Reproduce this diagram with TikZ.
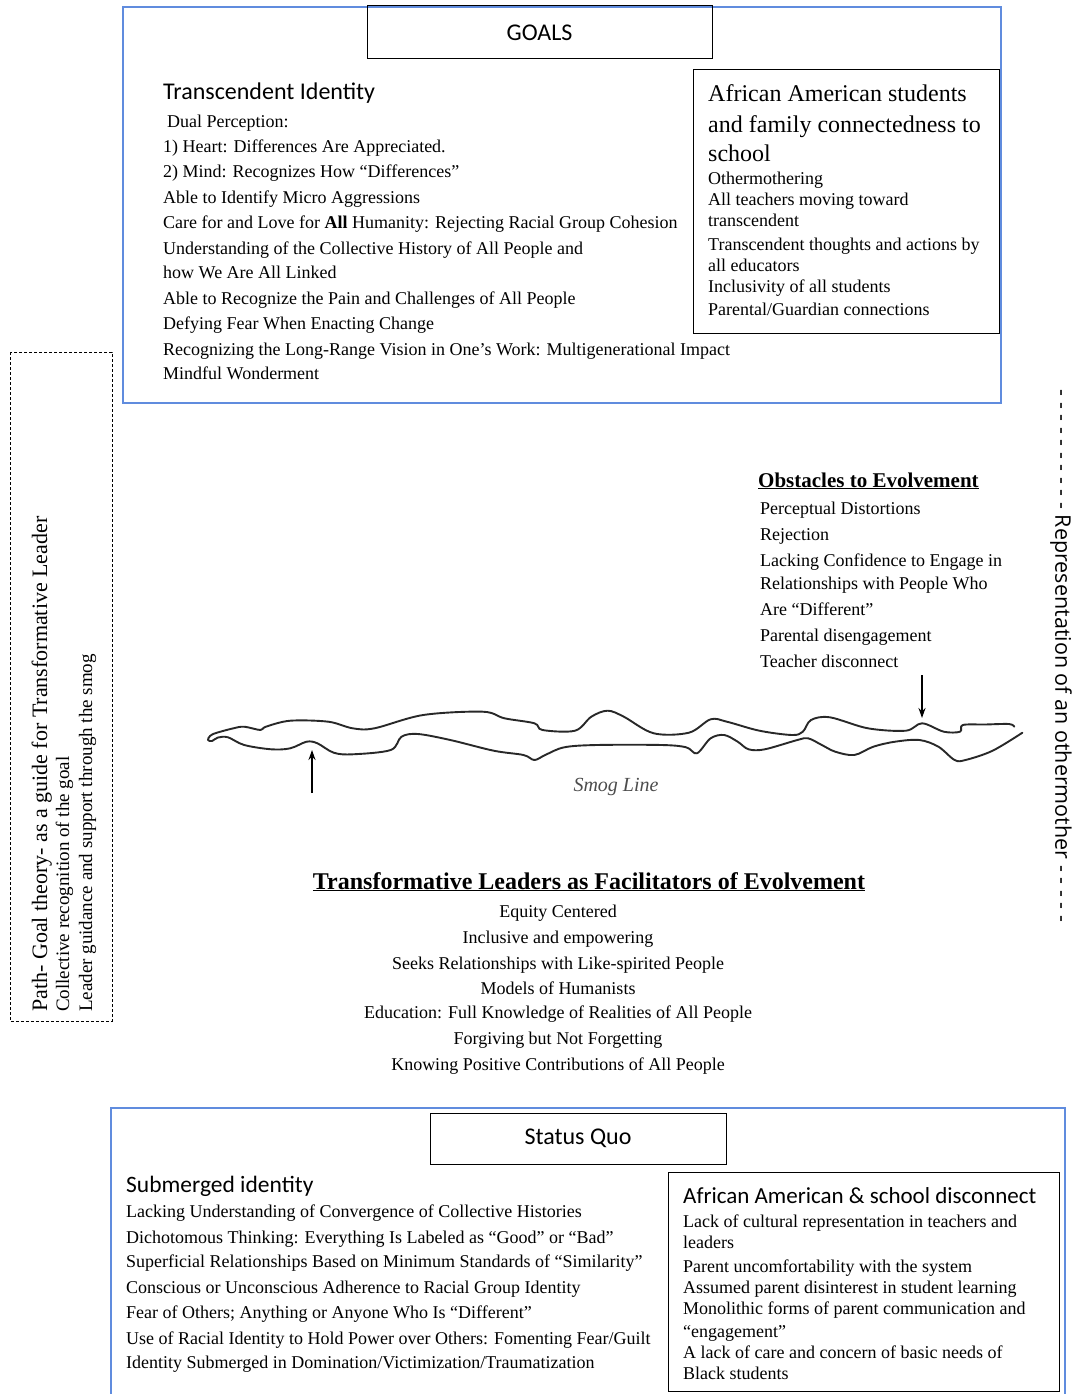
\documentclass[tikz,border=0pt]{standalone}
\usepackage{fontspec}
\setmainfont{Liberation Serif}
\newfontfamily\calibri{Carlito}
\newfontfamily\osans{Open Sans}
\usetikzlibrary{arrows.meta}
\definecolor{boxblue}{RGB}{96,140,222}
\definecolor{smoggray}{RGB}{40,40,40}
\begin{document}
\begin{tikzpicture}[x=1pt,y=-1pt,
  tx/.style={font=\fontsize{18}{21}\selectfont, inner sep=0pt, anchor=base west},
  txs/.style={font=\fontsize{18}{21}\selectfont, inner sep=0pt, anchor=base west},
  txc/.style={font=\fontsize{18}{21}\selectfont, inner sep=0pt, anchor=base},
  hd/.style={font=\calibri\fontsize{24}{28}\selectfont, inner sep=0pt, anchor=base west},
  bigser/.style={font=\fontsize{24}{28}\selectfont, inner sep=0pt, anchor=base west},
  bluebox/.style={draw=boxblue, line width=1.1pt},
  blackbox/.style={draw=black, line width=1pt},
  titlebox/.style={draw=black, line width=1pt, inner sep=0pt, font=\calibri\fontsize{24}{28}\selectfont},
  smog/.style={draw=smoggray, line width=1.9pt, line join=round, line cap=round},
  arr/.style={draw=black, line width=1.7pt, -{Stealth[length=10pt,width=7pt]}},
  rot/.style={inner sep=0pt, anchor=base west, rotate=90}
]
\useasboundingbox (0,0) rectangle (1073,1394);

% ===== GOALS area =====
\draw[bluebox] (123,7) rectangle (1001,403);
\node[titlebox, minimum width=345pt, minimum height=53pt] (goals) at (539.5,32.5) {GOALS};

\node[hd] (ti) at (163,100) {Transcendent Identity};
\node[tx] (g1) at (167,128) {Dual Perception:};
\node[tx] (g2) at (163,153) {1) Heart: Differences Are Appreciated.};
\node[tx] (g3) at (163,177) {2) Mind: Recognizes How “Differences”};
\node[tx] (g4) at (163,203) {Able to Identify Micro Aggressions};
\node[tx] (g5) at (163,228) {Care for and Love for \textbf{All} Humanity: Rejecting Racial Group Cohesion};
\node[tx] (g6) at (163,254) {Understanding of the Collective History of All People and};
\node[tx] (g7) at (163,278) {how We Are All Linked};
\node[tx] (g8) at (163,304) {Able to Recognize the Pain and Challenges of All People};
\node[tx] (g9) at (163,329) {Defying Fear When Enacting Change};
\node[tx] (g10) at (163,355) {Recognizing the Long-Range Vision in One’s Work: Multigenerational Impact};
\node[tx] (g11) at (163,379) {Mindful Wonderment};

\draw[blackbox] (693,70) rectangle (999,333);
\node[bigser] (aa1) at (708,102) {African American students};
\node[bigser] (aa2) at (708,132) {and family connectedness to};
\node[bigser] (aa3) at (708,161) {school};
\node[txs] (r1) at (708,184) {Othermothering};
\node[txs] (r2) at (708,205) {All teachers moving toward};
\node[txs] (r3) at (708,226) {transcendent};
\node[txs] (r4) at (708,250) {Transcendent thoughts and actions by};
\node[txs] (r5) at (708,271) {all educators};
\node[txs] (r6) at (708,292) {Inclusivity of all students};
\node[txs] (r7) at (708,315) {Parental/Guardian connections};

% ===== Left dashed box =====
\draw[draw=black, line width=0.8pt, dash pattern=on 3pt off 2pt] (10,352) rectangle (112,1021);
\node[rot, font=\fontsize{22}{25}\selectfont] (pg1) at (47,1012) {Path- Goal theory- as a guide for Transformative Leader};
\node[rot, font=\fontsize{19}{22}\selectfont] (pg2) at (69,1012) {Collective recognition of the goal};
\node[rot, font=\fontsize{19}{22}\selectfont] (pg3) at (92,1012) {Leader guidance and support through the smog};

% ===== Right vertical label =====
\node[inner sep=0pt, rotate=-90, font=\osans\fontsize{21.5}{24}\selectfont] (oth) at (1061,656)
  {- - - - - - - - - - Representation of an othermother - - - - -};

% ===== Obstacles =====
\node[tx, font=\bfseries\fontsize{21}{24}\selectfont] (obh) at (758,487) {\underline{Obstacles to Evolvement}};
\node[tx] (o1) at (760,514) {Perceptual Distortions};
\node[tx] (o2) at (760,540) {Rejection};
\node[tx] (o3) at (760,566) {Lacking Confidence to Engage in};
\node[tx] (o4) at (760,589) {Relationships with People Who};
\node[tx] (o5) at (760,615) {Are “Different”};
\node[tx] (o6) at (760,641) {Parental disengagement};
\node[tx] (o7) at (760,667) {Teacher disconnect};

% ===== Smog line =====
\draw[smog] plot[smooth, tension=0.55] coordinates {
 (1014.3,726.7) (1008.9,724) (985,724.5) (962.8,725) (960,731.7) (943.8,731.7) (922.1,723.3)
 (905.8,730.7) (867.9,728.3) (829.9,717.3) (811,720) (802.8,731.7) (792,735) (759.4,730.7)
 (726.9,721.7) (710.6,719.3) (688.9,732.7) (653.7,733.3) (623.8,716.7) (607.6,710.7)
 (591.3,716.7) (575,730.7) (542.5,730) (534.4,723.3) (504.5,718.3) (482.8,711.7) (423.2,715)
 (374.4,728.3) (352.7,728.3) (328.3,721.7) (290.3,720.7) (265.9,726.7) (260.5,730)
 (244.2,726.7) (233.4,728.3) (216,733) (210,736) (208,740) (212,741) (218,737.5) (228,737.3)
 (244.2,745) (271.3,749.3) (290.3,748.3) (306.6,741.7) (317.4,743.3) (333.7,752.7)
 (352.7,754.3) (390.7,750) (401.5,736.7) (417.8,734) (450.3,740) (493.7,750.7) (523.5,755)
 (534.4,760) (545.2,755) (564.2,747.3) (596.7,745) (661.8,745) (686.2,747.3) (697,753.3)
 (710.6,738.3) (724.2,735) (737.7,741.7) (748.6,749.3) (764.8,749.3) (797.4,740) (808.2,738.3)
 (821.8,745) (835.3,751.7) (854.3,755) (873.3,746.7) (895,741.7) (919.4,740) (938.4,746.7)
 (954.6,760) (965.5,760) (992.6,750.7) (1022.4,732.7)};
\coordinate (a1s) at (312,793);
\coordinate (a1e) at (312,750);
\draw[arr] (a1s) -- (a1e);
\coordinate (a2s) at (922,675);
\coordinate (a2e) at (922,718);
\draw[arr] (a2s) -- (a2e);
\node[inner sep=0pt, font=\itshape\fontsize{20}{23}\selectfont, text=black!70] (smogl) at (616,787) {Smog Line};

% ===== Transformative leaders =====
\node[txc, font=\bfseries\fontsize{24}{28}\selectfont] (tlh) at (589,889) {\underline{Transformative Leaders as Facilitators of Evolvement}};
\node[txc] (t1) at (558,917) {Equity Centered};
\node[txc] (t2) at (558,943) {Inclusive and empowering};
\node[txc] (t3) at (558,969) {Seeks Relationships with Like-spirited People};
\node[txc] (t4) at (558,994) {Models of Humanists};
\node[txc] (t5) at (558,1018) {Education: Full Knowledge of Realities of All People};
\node[txc] (t6) at (558,1044) {Forgiving but Not Forgetting};
\node[txc] (t7) at (558,1070) {Knowing Positive Contributions of All People};

% ===== Status Quo area =====
\draw[bluebox] (111,1400) -- (111,1108) -- (1065,1108) -- (1065,1400);
\node[titlebox, minimum width=296pt, minimum height=51pt] (sq) at (578,1138.5) {Status Quo};

\node[hd, font=\calibri\fontsize{23.5}{28}\selectfont] (si) at (126,1192) {Submerged identity};
\node[tx] (s1) at (126,1217) {Lacking Understanding of Convergence of Collective Histories};
\node[tx] (s2) at (126,1243) {Dichotomous Thinking: Everything Is Labeled as “Good” or “Bad”};
\node[tx] (s3) at (126,1267) {Superficial Relationships Based on Minimum Standards of “Similarity”};
\node[tx] (s4) at (126,1293) {Conscious or Unconscious Adherence to Racial Group Identity};
\node[tx] (s5) at (126,1318) {Fear of Others; Anything or Anyone Who Is “Different”};
\node[tx] (s6) at (126,1344) {Use of Racial Identity to Hold Power over Others: Fomenting Fear/Guilt};
\node[tx] (s7) at (126,1368) {Identity Submerged in Domination/Victimization/Traumatization};

\draw[blackbox] (668,1172) rectangle (1059,1391);
\node[hd, font=\calibri\fontsize{23}{28}\selectfont] (adh) at (683,1203) {African American \& school disconnect};
\node[txs] (d1) at (683,1227) {Lack of cultural representation in teachers and};
\node[txs] (d2) at (683,1248) {leaders};
\node[txs] (d3) at (683,1272) {Parent uncomfortability with the system};
\node[txs] (d4) at (683,1293) {Assumed parent disinterest in student learning};
\node[txs] (d5) at (683,1314) {Monolithic forms of parent communication and};
\node[txs] (d6) at (683,1337) {“engagement”};
\node[txs] (d7) at (683,1358) {A lack of care and concern of basic needs of};
\node[txs] (d8) at (683,1379) {Black students};
\end{tikzpicture}
\end{document}
